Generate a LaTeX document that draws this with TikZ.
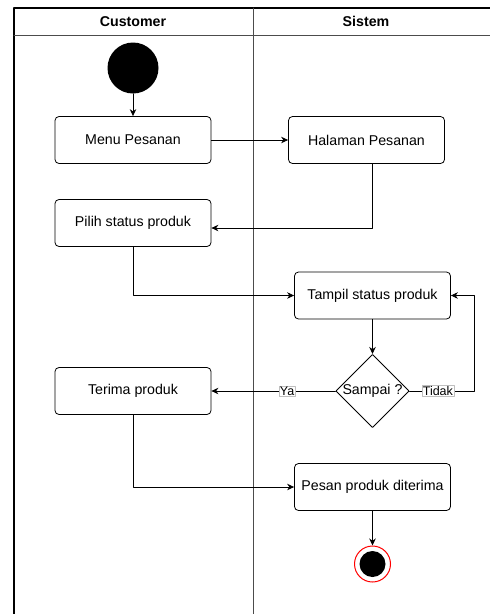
\documentclass[tikz,border=0pt]{standalone}
\usepackage{fontspec}
\setmainfont{Liberation Sans}
\usetikzlibrary{arrows.meta,shapes.geometric}
\begin{document}
\begin{tikzpicture}[x=1pt,y=-1pt,line cap=round,line join=round,>={Stealth[length=7pt,width=6.5pt]},
  actbox/.style={draw,rounded corners=4pt,minimum width=156pt,minimum height=47pt,line width=0.8pt,
    inner sep=0pt,font=\fontsize{14.2}{16}\selectfont},
  decide/.style={draw,diamond,aspect=1,minimum width=71pt,minimum height=72pt,inner sep=0pt,
    line width=0.8pt,font=\fontsize{14.2}{16}\selectfont},
  lanehead/.style={font=\fontsize{14.2}{16}\selectfont\bfseries},
  guard/.style={fill=white,draw=black!25,line width=0.4pt,inner sep=0.8pt,font=\fontsize{12.5}{14}\selectfont},
  flow/.style={->,line width=0.8pt}]
  \useasboundingbox (0,0) rectangle (490,614);
  % swimlanes
  \draw[line width=1.2pt] (14,614) -- (14,8) -- (490,8);
  \draw[line width=1pt,black!70] (14,35) -- (490,35);
  \draw[line width=1pt,black!70] (253,8) -- (253,614);
  \node[lanehead] (hcust) at (133,21.5) {Customer};
  \node[lanehead] (hsis) at (366,21.5) {Sistem};
  % activities
  \node[circle,fill=black,minimum size=51pt,inner sep=0pt] (start) at (133,68) {};
  \node[actbox] (menu) at (133,140) {Menu Pesanan};
  \node[actbox] (hal) at (366.5,140) {Halaman Pesanan};
  \node[actbox] (pilih) at (133,223) {Pilih status produk};
  \node[actbox] (tampil) at (372.5,295.5) {Tampil status produk};
  \node[decide] (sampai) at (372.5,391) {Sampai ?};
  \node[actbox] (terima) at (133,391) {Terima produk};
  \node[actbox] (pesan) at (372.5,487) {Pesan produk diterima};
  \node[circle,draw=red,fill=white,line width=1pt,minimum size=36pt,inner sep=0pt] (stop) at (372.5,564) {};
  \node[circle,fill=black,minimum size=26pt,inner sep=0pt] (stopdot) at (stop) {};
  % connectors
  \draw[flow] (start) -- (menu);
  \draw[flow] (menu) -- (hal);
  \draw[flow] (hal.south -| tampil) |- ([yshift=-5pt]pilih.east);
  \draw[flow] (pilih) |- (tampil);
  \draw[flow] (tampil) -- (sampai);
  \draw[flow] (sampai) -- node[guard,pos=0.39] (ya) {Ya} (terima);
  \draw[flow] (sampai.east) -- node[guard,pos=0.44] (tidak) {Tidak} (474,391) |- (tampil.east);
  \draw[flow] (terima) |- (pesan);
  \draw[flow] (pesan) -- (stop);
\end{tikzpicture}
\end{document}
